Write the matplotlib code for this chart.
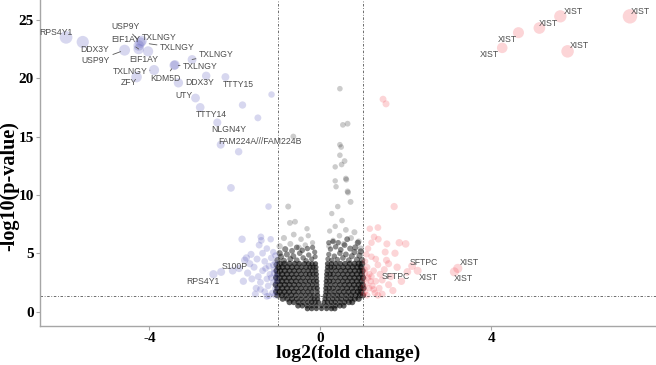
import matplotlib.pyplot as plt

# --- datos (log2FC, -log10 p) ---

# genes bajos significativos (azul)
down_x = [-5.95, -5.56, -4.58, -4.21, -4.18, -4.25, -4.25, -4.03, -3.89, -4.3,
          -3.42, -3.4, -3.0, -3.32, -2.67, -2.22, -2.92, -1.14, -1.82, -2.81,
          -1.46, -2.41, -2.33, -1.91, -2.09, -1.21,
          -1.83, -1.39, -1.38, -1.16, -1.43, -1.25, -1.1, -1.73, -1.65, -2.32,
          -2.5, -1.77, -1.05, -1.08, -1.03, -1.1, -1.05, -1.12, -1.15, -1.2,
          -1.18, -1.25, -1.22, -1.3, -1.3, -1.35, -1.4, -1.45, -1.5, -1.55,
          -1.6, -1.7, -1.48, -1.62, -1.8, -1.35, -1.06, -1.15, -1.08, -1.28,
          -1.9, -2.05, -1.52, -1.4, -1.05, -1.2, -1.02, -1.1, -1.25]
down_y = [23.5, 23.1, 22.4, 23.05, 23.2, 22.8, 22.5, 22.3, 20.7, 20.1,
          21.1, 21.15, 21.6, 19.6, 20.2, 20.1, 18.3, 18.6, 17.7, 17.5,
          16.6, 16.2, 14.3, 13.7, 10.6, 9.0,
          6.2, 6.4, 6.1, 6.2, 5.7, 5.4, 5.1, 4.6, 4.1, 3.4,
          3.2, 4.4, 4.2, 3.6, 3.0, 2.5, 2.0, 1.6, 4.6, 3.9,
          3.2, 2.8, 2.2, 1.7, 4.3, 3.5, 2.5, 3.0, 2.0, 3.8,
          2.8, 3.3, 4.5, 4.9, 2.6, 5.0, 1.4, 2.9, 3.3, 3.7,
          3.7, 3.5, 1.5, 1.9, 4.8, 1.35, 2.6, 4.0, 1.3]

# genes altos significativos (rojo)
up_x = [5.62, 7.25, 5.13, 4.64, 4.26, 5.79,
        1.47, 1.54, 1.73, 1.16, 1.35, 1.26, 1.36, 1.56, 1.85, 2.0, 1.75, 1.52,
        2.04, 2.28, 3.14, 3.22,
        1.05, 1.1, 1.05, 1.12, 1.08, 1.15, 1.05, 1.1, 1.2, 1.25, 1.2, 1.3,
        1.22, 1.28, 1.35, 1.4, 1.38, 1.45, 1.5, 1.55, 1.6, 1.65, 1.7, 1.8,
        1.9, 1.12, 1.2, 1.02, 1.04, 1.03, 1.15, 1.18, 1.02, 1.08, 1.3, 1.45,
        1.6, 1.25, 1.35, 2.15]
up_y = [25.3, 25.3, 24.3, 23.9, 22.6, 22.3,
        18.2, 17.8, 9.0, 7.1, 7.2, 6.4, 6.2, 5.8, 5.9, 5.8, 5.0, 5.1,
        3.4, 3.5, 3.4, 3.7,
        4.3, 3.8, 3.3, 2.9, 2.4, 2.0, 1.7, 1.4, 4.7, 3.5, 3.0, 2.6,
        2.2, 1.6, 4.0, 3.2, 2.0, 2.7, 3.6, 4.4, 2.3, 3.0, 1.8, 3.8,
        2.6, 5.4, 5.9, 2.1, 3.6, 2.8, 3.2, 2.6, 1.5, 4.9, 4.5, 1.5,
        4.1, 1.9, 1.4, 3.9]

# no significativos: nucleo del volcan, fila por fila
core_rows_y = [0.25, 0.5, 0.8, 1.1, 1.4, 1.7, 2.0, 2.3, 2.6, 2.9, 3.2, 3.5, 3.8, 4.1]
core_rows_x = [
    [-0.3, -0.2, -0.09, 0.03, 0.15, 0.26, 0.34],
    [-0.52, -0.42, -0.31, -0.2, -0.09, 0.03, 0.14, 0.25, 0.36, 0.46, 0.55],
    [-0.72, -0.62, -0.51, -0.4, -0.29, -0.2, -0.12, -0.04, 0.09, 0.17, 0.26, 0.35, 0.46, 0.57, 0.67, 0.75],
    [-0.88, -0.77, -0.66, -0.55, -0.44, -0.33, -0.22, -0.14, -0.06, 0.11, 0.19, 0.29, 0.39, 0.49, 0.6, 0.71, 0.81, 0.9],
    [-1.0, -0.9, -0.79, -0.68, -0.57, -0.45, -0.34, -0.24, -0.15, -0.06, 0.12, 0.2, 0.3, 0.4, 0.5, 0.61, 0.72, 0.83, 0.93, 1.0],
    [-1.03, -0.95, -0.84, -0.73, -0.62, -0.51, -0.4, -0.29, -0.19, -0.07, 0.13, 0.22, 0.33, 0.44, 0.55, 0.66, 0.77, 0.88, 0.96],
    [-1.0, -0.89, -0.78, -0.67, -0.56, -0.45, -0.34, -0.24, -0.15, -0.07, 0.13, 0.21, 0.3, 0.41, 0.52, 0.63, 0.74, 0.85, 0.95, 1.01],
    [-1.04, -0.94, -0.83, -0.72, -0.61, -0.5, -0.39, -0.28, -0.18, -0.08, 0.14, 0.24, 0.35, 0.46, 0.57, 0.68, 0.79, 0.9, 0.99],
    [-1.0, -0.9, -0.79, -0.68, -0.57, -0.46, -0.35, -0.25, -0.16, -0.08, 0.14, 0.22, 0.31, 0.42, 0.53, 0.64, 0.75, 0.86, 0.97],
    [-1.03, -0.95, -0.84, -0.73, -0.62, -0.51, -0.4, -0.29, -0.19, -0.09, 0.15, 0.25, 0.36, 0.47, 0.58, 0.69, 0.8, 0.91, 1.0],
    [-1.0, -0.89, -0.78, -0.67, -0.56, -0.45, -0.34, -0.25, -0.17, -0.09, 0.15, 0.23, 0.31, 0.42, 0.53, 0.64, 0.75, 0.86, 0.97],
    [-1.02, -0.94, -0.83, -0.72, -0.61, -0.5, -0.39, -0.28, -0.19, -0.1, 0.16, 0.26, 0.37, 0.48, 0.59, 0.7, 0.81, 0.92, 0.99],
    [-0.98, -0.88, -0.77, -0.66, -0.55, -0.44, -0.33, -0.24, -0.17, -0.1, 0.17, 0.25, 0.33, 0.43, 0.54, 0.65, 0.76, 0.87, 0.96],
    [-0.95, -0.84, -0.72, -0.6, -0.49, -0.37, -0.27, -0.19, -0.11, 0.17, 0.26, 0.36, 0.47, 0.58, 0.69, 0.8, 0.9, 0.98],
]

# borde superior del nucleo (irregular)
fringe_x = [-1.0, -0.92, -0.85, -0.78, -0.7, -0.63, -0.55, -0.48, -0.4, -0.33, -0.27,
            -0.2, -0.12, -0.13, -0.95, -0.66, -0.42, -0.3, -0.18, -0.82, -0.55, -1.02,
            0.18, 0.2, 0.27, 0.33, 0.4, 0.46, 0.53, 0.6, 0.67, 0.74, 0.8, 0.86,
            0.92, 0.98, 0.24, 0.36, 0.48, 0.57, 0.7, 0.82, 0.95, 0.3, 0.63, 0.42,
            0.2, 0.88]
fringe_y = [4.4, 4.7, 4.35, 4.9, 4.5, 4.75, 4.4, 5.0, 4.6, 4.35, 4.85,
            4.5, 4.7, 5.1, 5.0, 5.2, 5.25, 5.4, 5.5, 5.35, 5.5, 4.0,
            4.5, 4.9, 4.4, 4.75, 4.45, 5.0, 4.6, 4.9, 4.4, 4.75, 5.1, 4.45,
            4.8, 4.4, 5.35, 5.55, 5.3, 5.7, 5.4, 5.5, 5.15, 6.0, 6.2, 5.9,
            5.9, 5.9]

# no significativos dispersos (gris claro)
ns_x = [0.46, 0.53, 0.64, -0.63, 0.46, 0.49, 0.46, 0.57, 0.5, 0.35, 0.6, 0.61,
        0.35, 0.37, 0.64, 0.65, 0.71, 0.41, -0.75, 0.27, 0.51, -0.71, -0.59, -0.31,
        0.35, 0.6, 0.8, 0.22, -0.85, -0.62, -0.45, -0.28, 0.45, 0.72, 0.9, -0.18,
        -0.95, -0.7, 0.3, 0.55, 0.95, -0.5, -0.35, 0.2]
ns_y = [19.1, 16.0, 16.1, 15.0, 14.3, 14.1, 13.4, 12.9, 12.6, 12.4, 11.4, 11.3,
        11.2, 10.7, 10.3, 10.2, 9.4, 9.0, 9.0, 8.4, 7.8, 7.6, 7.7, 7.1,
        7.3, 7.0, 6.8, 6.9, 6.3, 6.6, 6.2, 6.5, 6.5, 6.3, 6.0, 5.9,
        5.6, 5.8, 6.1, 5.8, 5.4, 5.5, 5.7, 5.6]

# etiquetas de genes: posicion del texto y punto al que apuntan
lab_text = ["RPS4Y1", "DDX3Y", "USP9Y", "USP9Y", "EIF1AY", "TXLNGY", "TXLNGY", "EIF1AY",
            "TXLNGY", "TXLNGY", "TXLNGY", "KDM5D", "ZFY", "DDX3Y", "TTTY15", "UTY",
            "TTTY14", "NLGN4Y", "FAM224A///FAM224B", "S100P", "RPS4Y1",
            "SFTPC", "SFTPC", "XIST", "XIST", "XIST",
            "XIST", "XIST", "XIST", "XIST", "XIST", "XIST"]
lab_x = [-6.19, -5.27, -5.25, -4.55, -4.56, -3.76, -3.35, -4.13,
         -2.44, -2.81, -4.46, -3.63, -4.48, -2.83, -1.93, -3.2,
         -2.55, -2.15, -1.41, -2.01, -2.74,
         2.43, 1.78, 2.54, 3.48, 3.34,
         5.92, 7.5, 5.33, 4.38, 3.96, 6.07]
lab_y = [23.9, 22.5, 21.5, 24.4, 23.3, 23.5, 22.6, 21.6,
         22.05, 21.0, 20.6, 20.0, 19.6, 19.6, 19.5, 18.55,
         16.9, 15.6, 14.6, 3.9, 2.6,
         4.18, 3.03, 2.9, 4.18, 2.8,
         25.7, 25.7, 24.66, 23.3, 22.0, 22.8]
lab_px = [None, None, -4.58, -4.21, -4.25, None, -4.1, None,
          -3.0, -3.42, -3.89, -3.42, None, None, None, None,
          None, None, None, None, None,
          None, None, None, None, None,
          None, None, None, None, None, None]
lab_py = [None, None, 22.4, 23.05, 22.5, None, 23.0, None,
          21.6, 21.1, 20.7, 21.1, None, None, None, None,
          None, None, None, None, None,
          None, None, None, None, None,
          None, None, None, None, None, None]

x_ticks = [-4, 0, 4]
y_ticks = [0, 5, 10, 15, 20, 25]


def dot_size(xs):
    # el tamaño del punto crece con |log2FC|
    return [((5 + 1.3 * abs(v)) * 0.72) ** 2 for v in xs]


fig = plt.figure(figsize=(6.56, 3.65), dpi=100)
ax = fig.add_axes([0.061, 0.108, 0.939, 0.892])

# nucleo negro
core_x = []
core_y = []
for yy, row in zip(core_rows_y, core_rows_x):
    for xx in row:
        core_x.append(xx)
        core_y.append(yy)
ax.scatter(core_x, core_y, s=dot_size(core_x), color='black', alpha=0.62, linewidths=0)
ax.scatter(fringe_x, fringe_y, s=dot_size(fringe_x), color='black', alpha=0.45, linewidths=0)
ax.scatter(ns_x, ns_y, s=dot_size(ns_x), color='black', alpha=0.2, linewidths=0)

ax.scatter(down_x, down_y, s=dot_size(down_x), color=(0.3, 0.3, 0.72), alpha=0.22, linewidths=0)
ax.scatter(up_x, up_y, s=dot_size(up_x), color=(0.95, 0.25, 0.3), alpha=0.22, linewidths=0)

# umbrales
dd = (0, (3, 2, 1, 2))
ax.axvline(-1, color='#555555', lw=0.6, linestyle=dd)
ax.axvline(1, color='#555555', lw=0.6, linestyle=dd)
ax.axhline(1.3, color='#555555', lw=0.6, linestyle=dd)

# etiquetas
for t, lx, ly, px, py in zip(lab_text, lab_x, lab_y, lab_px, lab_py):
    if px is None:
        ax.text(lx, ly, t, ha='center', va='center', fontsize=6.2,
                family='Liberation Sans', color='#4d4d4d')
    else:
        ax.annotate(t, xy=(px, py), xytext=(lx, ly), ha='center', va='center',
                    fontsize=6.2, family='Liberation Sans', color='#4d4d4d',
                    arrowprops=dict(arrowstyle='-', color='#555555', lw=0.6,
                                    shrinkA=0, shrinkB=3))

ax.set_xlim(-6.56, 7.86)
ax.set_ylim(-1.2, 26.7)
ax.set_xticks(x_ticks)
ax.set_xticklabels([str(v) for v in x_ticks])
ax.set_yticks(y_ticks)
ax.set_yticklabels([str(v) for v in y_ticks])

for s in ['top', 'right']:
    ax.spines[s].set_visible(False)
for s in ['left', 'bottom']:
    ax.spines[s].set_color('#a6a6a6')
    ax.spines[s].set_linewidth(1.0)
ax.tick_params(length=3, color='#a6a6a6', width=0.8, pad=1.5)
for lab in ax.get_xticklabels() + ax.get_yticklabels():
    lab.set_family('Liberation Serif')
    lab.set_fontweight('bold')
    lab.set_fontsize(11)
    lab.set_color('black')

ax.set_xlabel('log2(fold change)', family='Liberation Serif', fontweight='bold',
              fontsize=14, labelpad=0)
ax.set_ylabel('-log10(p-value)', family='Liberation Serif', fontweight='bold',
              fontsize=14.5)
ax.yaxis.set_label_coords(-0.0335, 0.43)

fig.savefig('out.png', dpi=100)
